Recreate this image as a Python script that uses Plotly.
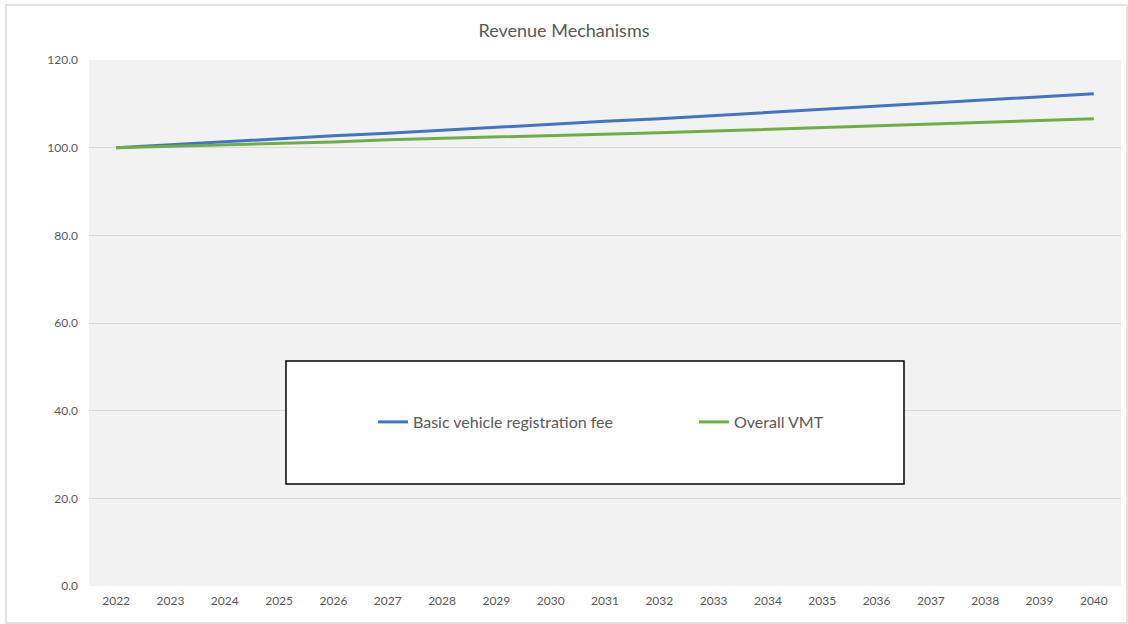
import plotly.graph_objects as go

years = [str(y) for y in range(2022, 2041)]
basic_fee = [100.0, 100.7, 101.4, 102.0, 102.7, 103.3, 104.0, 104.6, 105.3, 106.0,
             106.6, 107.3, 108.0, 108.7, 109.4, 110.1, 110.9, 111.6, 112.3]
overall_vmt = [100.0, 100.3, 100.6, 101.0, 101.3, 101.8, 102.1, 102.4, 102.8, 103.1,
               103.4, 103.8, 104.2, 104.5, 104.9, 105.4, 105.8, 106.2, 106.6]
y_ticks = [0, 20, 40, 60, 80, 100, 120]

W, H = 1128, 624
L, R, T, B = 89, 7, 60, 38
pw, ph = W - L - R, H - T - B

def px(x):
    return (x - L) / pw

def py(y):
    return (H - B - y) / ph

fig = go.Figure()
fig.add_trace(go.Scatter(x=years, y=basic_fee, mode="lines",
                         name="Basic vehicle registration fee",
                         line=dict(color="#4472C4", width=3)))
fig.add_trace(go.Scatter(x=years, y=overall_vmt, mode="lines",
                         name="Overall VMT",
                         line=dict(color="#70AD47", width=3)))

font_family = "Lato, 'Open Sans', sans-serif"

fig.update_layout(
    width=W, height=H,
    margin=dict(l=L, r=R, t=T, b=B),
    paper_bgcolor="white",
    plot_bgcolor="#f2f2f2",
    font=dict(family=font_family, color="#595959", size=12),
    title=dict(text="Revenue Mechanisms", x=0.5, xanchor="center",
               y=1 - 31 / H, yanchor="middle", yref="container",
               font=dict(size=18, color="#595959", family=font_family)),
    showlegend=True,
    legend=dict(orientation="h", x=px(373), y=py(422), xanchor="left", yanchor="middle",
                bgcolor="rgba(0,0,0,0)", borderwidth=0,
                entrywidth=276, entrywidthmode="pixels",
                font=dict(size=16, color="#595959", family=font_family)),
    xaxis=dict(type="category", range=[-0.5, 18.5], showgrid=False, zeroline=False,
               showline=False, ticks="", tickfont=dict(size=12, color="#595959"),
               ticklabelstandoff=6),
    yaxis=dict(range=[0, 120], tickvals=y_ticks, tickformat=".1f",
               showgrid=True, gridcolor="#d9d9d9", gridwidth=1, zeroline=False,
               showline=False, ticks="", ticklabelstandoff=10,
               tickfont=dict(size=12, color="#595959")),
    shapes=[
        dict(type="rect", xref="paper", yref="paper",
             x0=px(286), x1=px(904), y0=py(484), y1=py(361),
             fillcolor="white", line=dict(color="black", width=1.5), layer="above"),
        dict(type="rect", xref="paper", yref="paper",
             x0=px(6), x1=px(1127), y0=py(623), y1=py(5),
             fillcolor="rgba(0,0,0,0)", line=dict(color="#d9d9d9", width=1.5), layer="below"),
    ],
)

fig.write_html("out.html", config={"displayModeBar": False},
               post_script="document.body.style.margin='0';document.body.style.overflow='hidden';")
